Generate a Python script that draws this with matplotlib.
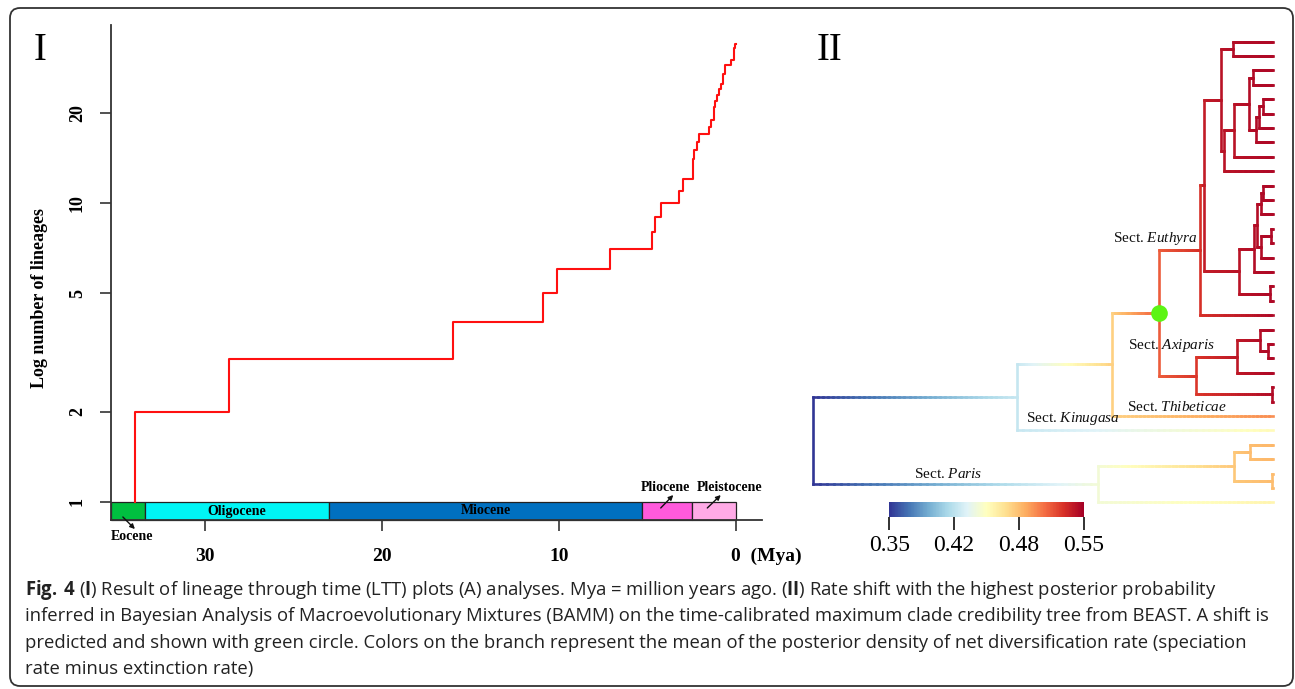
import numpy as np
import matplotlib
matplotlib.use("Agg")
import matplotlib.pyplot as plt
import matplotlib.transforms as mtransforms
from matplotlib import font_manager
from matplotlib.collections import LineCollection
from matplotlib.colors import Normalize
from matplotlib.cm import ScalarMappable
from matplotlib.patches import Rectangle, FancyBboxPatch
from matplotlib.ticker import NullLocator

# ---------------------------------------------------------------------------
# Panel I: lineage through time
ltt_root_age = 33.95
ltt_event_ages = [28.64, 15.99, 10.92, 10.10, 7.12, 4.76, 4.58, 4.26, 3.24,
                  3.01, 2.41, 2.37, 2.22, 2.07, 1.51, 1.41, 1.26, 1.17, 1.06,
                  0.94, 0.85, 0.75, 0.62, 0.28, 0.13, 0.06]
ltt_lineages = [3, 4, 5, 6, 7, 8, 9, 10, 11, 12, 14, 15, 16, 17, 18, 19, 21,
                22, 23, 24, 25, 27, 29, 30, 33, 34]

epoch_names = ["Eocene", "Oligocene", "Miocene", "Pliocene", "Pleistocene"]
epoch_start = [35.3, 33.4, 23.0, 5.28, 2.5]
epoch_end = [33.4, 23.0, 5.28, 2.5, 0.0]
epoch_colors = ["#00c040", "#00f5f5", "#0070c0", "#ff5adc", "#ffaae6"]

y_ticks = [1, 2, 5, 10, 20]
x_ticks = [30, 20, 10, 0]
x_ticklabels = ["30", "20", "10", "0  (Mya)"]

# ---------------------------------------------------------------------------
# Panel II: BAMM rate tree (tips listed top to bottom)
tip_parent = ["e3", "e3", "e7", "e7", "e10", "e10", "e9", "e8", "e5", "e4",
              "e15", "e15", "e14", "e17", "e17", "e16", "e12", "e18", "e18",
              "euth", "a2", "a3", "a3", "a1", "a4", "a4", "thi", "kin",
              "p2", "p2", "p3", "p3", "par"]
tip_rate = [0.546] * 26 + [0.5, 0.453, 0.486, 0.486, 0.486, 0.486, 0.457]

inner_name = ["root", "kin", "par", "thi", "shift", "euth", "axi",
              "e1", "e2", "e3", "e4", "e5", "e6", "e7", "e8", "e9", "e10",
              "e11", "e12", "e13", "e14", "e15", "e16", "e17", "e18",
              "a1", "a2", "a3", "a4", "p1", "p2", "p3"]
inner_parent = [None, "root", "root", "kin", "thi", "shift", "shift",
                "euth", "e1", "e2", "e2", "e4", "e5", "e6", "e6", "e8", "e9",
                "e1", "e11", "e12", "e13", "e14", "e13", "e16", "e11",
                "axi", "a1", "a2", "axi", "par", "p1", "p1"]
inner_age = [33.95, 18.9, 12.93, 11.9, 8.4, 5.4, 5.68,
             5.1, 3.86, 2.93, 3.61, 2.88, 1.77, 1.50, 1.25, 1.03, 0.74,
             2.49, 1.40, 1.16, 0.88, 0.72, 0.88, 0.15, 0.22,
             2.63, 0.96, 0.35, 0.10, 2.85, 1.70, 0.10]
inner_rate = [0.35, 0.42, 0.442, 0.476, 0.515, 0.53, 0.528,
              0.538, 0.542, 0.544, 0.542, 0.542, 0.544, 0.545, 0.545, 0.545, 0.546,
              0.542, 0.544, 0.544, 0.545, 0.546, 0.545, 0.546, 0.546,
              0.54, 0.544, 0.545, 0.545, 0.48, 0.484, 0.484]

rate_range = (0.35, 0.55)
sections = [("Euthyra", 5.6, 13.7, "right"), ("Axiparis", 10.69, 21.07, "left"),
            ("Thibeticae", 10.77, 25.4, "left"), ("Kinugasa", 18.24, 26.2, "left"),
            ("Paris", 26.45, 30.03, "left")]

caption = [
    r"$\mathbf{Fig.\ 4}$ ($\mathbf{I}$) Result of lineage through time (LTT) plots (A) analyses. "
    r"Mya = million years ago. ($\mathbf{II}$) Rate shift with the highest posterior probability",
    "inferred in Bayesian Analysis of Macroevolutionary Mixtures (BAMM) on the time-calibrated "
    "maximum clade credibility tree from BEAST. A shift is",
    "predicted and shown with green circle. Colors on the branch represent the mean of the posterior "
    "density of net diversification rate (speciation",
    "rate minus extinction rate)",
]

# ---------------------------------------------------------------------------
W, H = 1295, 689
avail = {f.name for f in font_manager.fontManager.ttflist}
cap_font = next(f for f in ["Liberation Sans Narrow", "Open Sans", "DejaVu Sans"]
                if f in avail)
serif = "Liberation Serif"
plt.rcParams["mathtext.fontset"] = "custom"
plt.rcParams["mathtext.it"] = serif + ":italic"
plt.rcParams["mathtext.bf"] = cap_font + ":bold"
plt.rcParams["mathtext.rm"] = cap_font

fig = plt.figure(figsize=(W / 100, H / 100), dpi=100)


def fbox(x0, y0, x1, y1):
    # pixel box (top-left origin) -> figure fraction rect
    return [x0 / W, 1 - y1 / H, (x1 - x0) / W, (y1 - y0) / H]


# ---------------- Panel I ----------------
ax = fig.add_axes(fbox(111, 25, 762, 520))
ybot = 10 ** (-18 / 299)
ax.set_yscale("log")
ax.set_xlim(35.3, -1.47)
ax.set_ylim(ybot, 10 ** (477 / 299))

t = [ltt_root_age, ltt_root_age] + ltt_event_ages + [0.0]
n = [1, 2] + ltt_lineages + [ltt_lineages[-1]]
ax.step(t, n, where="post", color="#ff1010", lw=1.5, zorder=3)

for name, s, e, c in zip(epoch_names, epoch_start, epoch_end, epoch_colors):
    ax.add_patch(Rectangle((e, ybot), s - e, 1 - ybot, fc=c, ec="#222222",
                           lw=0.9, zorder=2, clip_on=False))
ymid = np.sqrt(ybot)
for name in ["Oligocene", "Miocene"]:
    i = epoch_names.index(name)
    ax.text((epoch_start[i] + epoch_end[i]) / 2, ymid, name, ha="center",
            va="center", family=serif, weight="bold", fontsize=10, zorder=4)

lab_kw = dict(family=serif, weight="bold", fontsize=10, ha="center", va="center")
arr_kw = dict(arrowstyle="-|>", color="#111111", lw=1.0, mutation_scale=7,
              shrinkA=0, shrinkB=0)
ax.text(34.12, 0.764, "Eocene", clip_on=False, **lab_kw)
ax.annotate("", xy=(33.95, 0.812), xytext=(34.63, 0.891), arrowprops=arr_kw,
            annotation_clip=False, zorder=5)
ax.text(3.98, 1.118, "Pliocene", **lab_kw)
ax.annotate("", xy=(3.54, 1.055), xytext=(4.25, 0.955), arrowprops=arr_kw, zorder=5)
ax.text(0.34, 1.118, "Pleistocene", clip_on=False, **lab_kw)
ax.annotate("", xy=(0.86, 1.055), xytext=(1.62, 0.955), arrowprops=arr_kw, zorder=5)

for sp in ["top", "right"]:
    ax.spines[sp].set_visible(False)
for sp in ["left", "bottom"]:
    ax.spines[sp].set_color("#333333")
    ax.spines[sp].set_linewidth(1.3)
ax.yaxis.set_minor_locator(NullLocator())
ax.set_yticks(y_ticks)
ax.set_yticklabels([str(v) for v in y_ticks], rotation=90, va="center",
                   family=serif, weight="bold", fontsize=13)
ax.set_xticks(x_ticks)
ax.set_xticklabels(x_ticklabels, family=serif, weight="bold", fontsize=14)
ax.tick_params(axis="both", length=8, width=1.2, color="#333333")
ax.tick_params(axis="x", pad=12)
ax.tick_params(axis="y", pad=10)
last = ax.get_xticklabels()[-1]
last.set_ha("left")
last.set_transform(last.get_transform() +
                   mtransforms.ScaledTranslation(-0.05, 0, fig.dpi_scale_trans))
ax.set_ylabel("Log number of lineages", family=serif, weight="bold", fontsize=13)
ax.yaxis.set_label_coords((48 - 111) / 651, (520 - 298) / 495)

# ---------------- Panel II ----------------
tx = fig.add_axes(fbox(800, 30, 1280, 510))
tx.set_xlim(34.88, -0.516)
tx.set_ylim(32.53, -0.813)
tx.axis("off")

parent = {f"t{i}": p for i, p in enumerate(tip_parent)}
parent.update(dict(zip(inner_name, inner_parent)))
age = {f"t{i}": 0.0 for i in range(len(tip_parent))}
age.update(dict(zip(inner_name, inner_age)))
rate = {f"t{i}": r for i, r in enumerate(tip_rate)}
rate.update(dict(zip(inner_name, inner_rate)))
children = {k: [] for k in inner_name}
for k, p in parent.items():
    if p is not None:
        children[p].append(k)

ypos = {}


def node_y(k):
    if k not in ypos:
        if k.startswith("t") and k[1:].isdigit():
            ypos[k] = float(k[1:])
        else:
            ys = [node_y(c) for c in children[k]]
            ypos[k] = (min(ys) + max(ys)) / 2
    return ypos[k]


node_y("root")
norm = Normalize(*rate_range)
cmap = plt.get_cmap("RdYlBu_r")

segs, vals = [], []
for k, p in parent.items():
    if p is None:
        continue
    xs = np.linspace(age[p], age[k], 41)
    rs = np.linspace(rate[p], rate[k], 41)
    y = ypos[k]
    for j in range(40):
        segs.append([(xs[j], y), (xs[j + 1], y)])
        vals.append((rs[j] + rs[j + 1]) / 2)
lc = LineCollection(segs, cmap=cmap, norm=norm, linewidths=1.9,
                    capstyle="projecting")
lc.set_array(np.array(vals))
tx.add_collection(lc)

vsegs, vvals = [], []
for k in inner_name:
    ys = [ypos[c] for c in children[k]]
    vsegs.append([(age[k], min(ys)), (age[k], max(ys))])
    vvals.append(rate[k])
vc = LineCollection(vsegs, cmap=cmap, norm=norm, linewidths=1.9,
                    capstyle="projecting")
vc.set_array(np.array(vvals))
tx.add_collection(vc)

tx.plot(age["shift"], ypos["shift"], "o", ms=12, color="#5cf414", mec="none",
        zorder=5)

for name, xa, ya, ha in sections:
    tx.text(xa, ya, "Sect. $\\mathit{" + name + "}$", ha=ha, va="center",
            family=serif, fontsize=11, color="#111111", zorder=6)

cax = fig.add_axes(fbox(889.3, 501.7, 1083.7, 517.3))
cb = fig.colorbar(ScalarMappable(norm=norm, cmap=cmap), cax=cax,
                  orientation="horizontal",
                  ticks=np.linspace(rate_range[0], rate_range[1], 4))
cb.outline.set_visible(False)
cax.set_xticklabels([f"{v:.2f}" for v in np.linspace(*rate_range, 4)],
                    family=serif, fontsize=17)
cax.tick_params(length=9.5, width=1.3, color="#222222", pad=3)

# panel labels
fig.text(40 / W, 1 - 50 / H, "I", family=serif, fontsize=28, ha="center", va="center")
fig.text(829 / W, 1 - 50 / H, "II", family=serif, fontsize=28, ha="center", va="center")

# border
fig.patches.append(FancyBboxPatch((10, H - 686), 1283, 678,
                                  boxstyle="round,pad=0,rounding_size=10",
                                  transform=mtransforms.IdentityTransform(),
                                  fill=False, ec="#333333", lw=1.3))

# caption, sized so the second line spans its width in the reference
r = fig.canvas.get_renderer()
probe = fig.text(0, 0, caption[1], family=cap_font, fontsize=10)
cap_size = 10 * 1250 / probe.get_window_extent(r).width
probe.remove()
for i, line in enumerate(caption):
    fig.text(25 / W, 1 - (590 + 26.3 * i) / H, line, family=cap_font,
             fontsize=cap_size, color="#222222", ha="left", va="center")

fig.savefig("out.png", dpi=100)
